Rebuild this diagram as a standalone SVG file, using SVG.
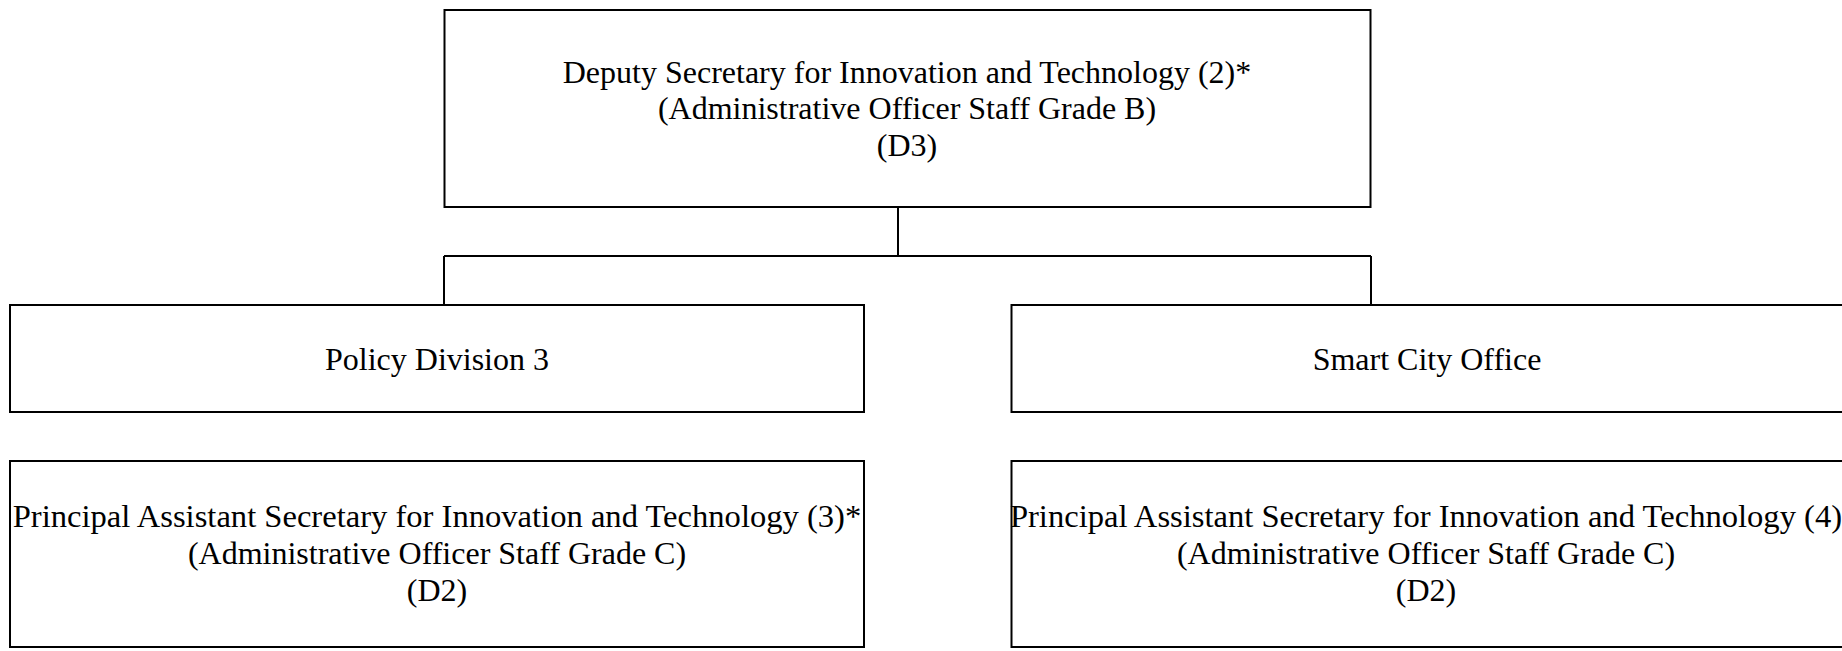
<svg xmlns="http://www.w3.org/2000/svg" width="1842" height="651" viewBox="0 0 1842 651">
<style>
.box{fill:#ffffff;stroke:#000000;stroke-width:2}
.conn{fill:none;stroke:#000000;stroke-width:2}
text{font-family:"Liberation Serif","Times New Roman",serif;font-size:32px;fill:#000000;text-anchor:middle}
.wide{font-size:32.6px}
</style>
<rect width="1842" height="651" fill="#ffffff"/>
<g id="connectors">
<path class="conn" d="M898,207 V256"/>
<path class="conn" d="M444,256 H1371"/>
<path class="conn" d="M444,256 V305"/>
<path class="conn" d="M1371,256 V305"/>
</g>
<g id="deputy-secretary">
<rect class="box" x="444.5" y="10" width="926" height="197"/>
<text x="907" y="82.5">Deputy Secretary for Innovation and Technology (2)*</text>
<text x="907" y="119.3">(Administrative Officer Staff Grade B)</text>
<text x="907" y="156.1">(D3)</text>
</g>
<g id="policy-division-3">
<rect class="box" x="10" y="305" width="854" height="107"/>
<text x="437" y="369.5">Policy Division 3</text>
</g>
<g id="smart-city-office">
<rect class="box" x="1011.5" y="305" width="854" height="107"/>
<text x="1427" y="369.5">Smart City Office</text>
</g>
<g id="pas-3">
<rect class="box" x="10" y="461" width="854" height="186"/>
<text class="wide" x="437" y="527">Principal Assistant Secretary for Innovation and Technology (3)*</text>
<text x="437" y="564">(Administrative Officer Staff Grade C)</text>
<text x="437" y="601">(D2)</text>
</g>
<g id="pas-4">
<rect class="box" x="1011.5" y="461" width="854" height="186"/>
<text class="wide" x="1426" y="527">Principal Assistant Secretary for Innovation and Technology (4)</text>
<text x="1426" y="564">(Administrative Officer Staff Grade C)</text>
<text x="1426" y="601">(D2)</text>
</g>
</svg>
